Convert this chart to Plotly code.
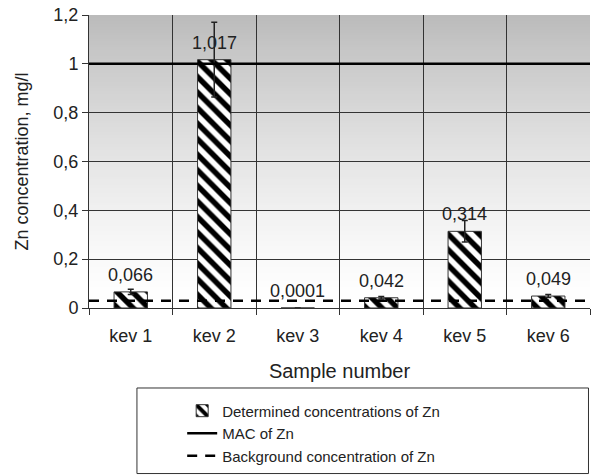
import plotly.graph_objects as go

# ---- data ----
samples = ["kev 1", "kev 2", "kev 3", "kev 4", "kev 5", "kev 6"]
zn_values = [0.066, 1.017, 0.0001, 0.042, 0.314, 0.049]
zn_errors = [0.011, 0.153, 0.0, 0.005, 0.044, 0.006]
mac_value = 1.0
background_value = 0.03
y_ticks = [0, 0.2, 0.4, 0.6, 0.8, 1.0, 1.2]

FONT = "Liberation Sans, Arial, sans-serif"

fig = go.Figure()

fig.add_trace(go.Bar(
    x=samples, y=zn_values, width=0.4,
    name="Determined concentrations of Zn",
    marker=dict(color="white", line=dict(color="#333333", width=1),
                pattern=dict(shape="\\", fgcolor="black", bgcolor="white",
                             fgopacity=1, size=11, solidity=0.5)),
    error_y=dict(type="data", array=zn_errors, color="#222222",
                 thickness=1.5, width=3),
))

fig.add_trace(go.Scatter(
    x=[0, 1], y=[mac_value, mac_value], xaxis="x2", yaxis="y",
    mode="lines", name="MAC of Zn",
    line=dict(color="black", width=2.5),
))
fig.add_trace(go.Scatter(
    x=[0, 1], y=[background_value, background_value], xaxis="x2", yaxis="y",
    mode="lines", name="Background concentration of Zn",
    line=dict(color="black", width=2.5, dash="10px,8px"),
))

# value labels
annotations = []
for s, v in zip(samples, zn_values):
    annotations.append(dict(
        x=s, y=v, xref="x", yref="y", text=str(v).replace(".", ","),
        showarrow=False, yanchor="bottom", yshift=5,
        font=dict(family=FONT, size=18, color="#222222"),
    ))

# gradient background (decoration): stacked overlapping strips, bottom up
shapes = []
n = 100
for i in range(n):
    f = (i + 0.5) / n
    g = int(round(255 - 68 * f ** 1.4))
    shapes.append(dict(
        type="rect", xref="x domain", yref="y domain",
        x0=0, x1=1, y0=i / n, y1=1,
        fillcolor=f"rgb({g},{g},{g})", line=dict(width=0), layer="below",
    ))
# legend box
shapes.append(dict(
    type="rect", xref="paper", yref="paper",
    x0=0.0957, x1=0.997, y0=-0.565, y1=-0.273,
    line=dict(color="#333333", width=1), fillcolor="rgba(0,0,0,0)",
))

fig.update_layout(
    width=592, height=475,
    margin=dict(l=89, r=2, t=15, b=167),
    paper_bgcolor="white", plot_bgcolor="white",
    separators=", ",
    font=dict(family=FONT, size=18, color="#222222"),
    showlegend=True,
    legend=dict(
        x=0.186, y=-0.295, xanchor="left", yanchor="top",
        bgcolor="rgba(0,0,0,0)", borderwidth=0,
        font=dict(family=FONT, size=15, color="#222222"),
    ),
    xaxis=dict(
        type="category", categoryorder="array", categoryarray=samples,
        tickson="boundaries", ticks="outside", ticklen=6, automargin=False,
        tickcolor="#333333", showgrid=True, gridcolor="#333333", gridwidth=1,
        showline=True, linecolor="#333333", ticklabelstandoff=11,
        title=dict(text="Sample number", font=dict(size=20), standoff=19),
    ),
    xaxis2=dict(overlaying="x", range=[0, 1], visible=False),
    yaxis=dict(
        range=[0, 1.2], tickvals=y_ticks, ticks="outside", ticklen=6,
        automargin=False,
        tickcolor="#333333", showgrid=True, gridcolor="#333333", gridwidth=1,
        showline=True, linecolor="#333333", zeroline=False,
        title=dict(text="Zn concentration, mg/l", font=dict(size=18), standoff=20),
    ),
    shapes=shapes,
    annotations=annotations,
)

fig.write_html("out.html", config={"displayModeBar": False},
               post_script="document.body.style.margin='0px';")
